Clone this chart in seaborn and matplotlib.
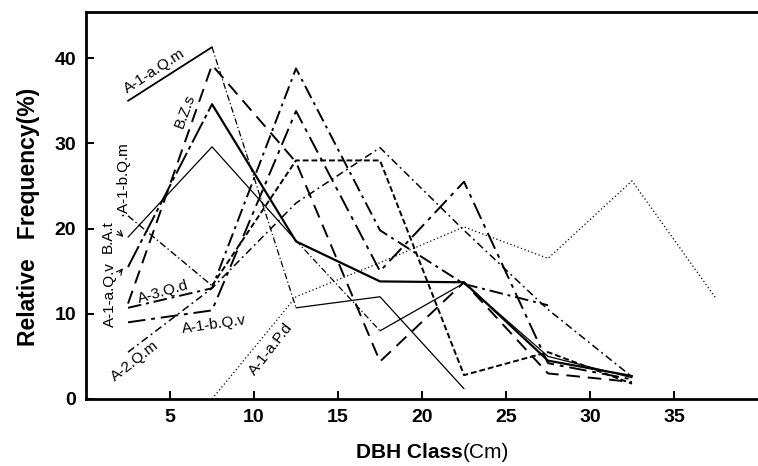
import numpy as np
import pandas as pd
import matplotlib
matplotlib.use("Agg")
import matplotlib.pyplot as plt
import seaborn as sns

sns.set_style("ticks")
plt.rcParams['font.family'] = ['Liberation Sans', 'DejaVu Sans']
plt.rcParams['text.color'] = 'black'
plt.rcParams['xtick.color'] = 'black'
plt.rcParams['ytick.color'] = 'black'
plt.rcParams['axes.edgecolor'] = 'black'

dbh = [2.5, 7.5, 12.5, 17.5, 22.5, 27.5, 32.5, 37.5]
nan = np.nan

a1a_qm = [35.0, 41.3, 10.7, 12.0, 1.2, nan, nan, nan]
b_zs = [11.2, 39.2, 27.8, 4.4, 13.7, 3.0, 2.0, nan]
a1a_qv = [15.5, 34.6, 18.5, 13.8, 13.7, 4.5, 2.7, nan]
b_at = [19.0, 29.6, 18.6, 8.0, 13.6, 5.0, 2.5, nan]
a1b_qm = [21.5, 13.3, 28.0, 28.0, 2.8, 5.5, 1.8, nan]
a3_qd = [10.7, 13.0, 38.8, 19.8, 13.5, 11.0, nan, nan]
a2_qm = [5.5, 13.0, 23.0, 29.5, 19.8, 10.5, 2.6, nan]
a1b_qv = [9.0, 10.4, 33.8, 15.0, 25.5, 4.2, 2.3, nan]
a1a_pd = [nan, 0.0, 12.0, 16.0, 20.2, 16.5, 25.6, 11.8]

series = {
    "A-1-a.Q.m": a1a_qm,
    "B.Z.s": b_zs,
    "A-1-a.Q.v": a1a_qv,
    "B.A.t": b_at,
    "A-1-b.Q.m": a1b_qm,
    "A-3.Q.d": a3_qd,
    "A-2.Q.m": a2_qm,
    "A-1-b.Q.v": a1b_qv,
    "A-1-a.P.d": a1a_pd,
}

DASHDOT_THIN = (0, (5, 2, 1, 2))
# pieces per series: (start_index, end_index, linewidth, linestyle)
styles = {
    "A-1-a.Q.m": [(0, 1, 1.3, "-"), (1, 2, 0.9, DASHDOT_THIN), (2, 4, 0.9, "-")],
    "B.Z.s": [(0, 7, 1.4, (0, (7, 4)))],
    "A-1-a.Q.v": [(0, 1, 1.4, (0, (12, 2, 2, 2))), (1, 7, 1.6, "-")],
    "B.A.t": [(0, 2, 0.9, "-"), (2, 3, 0.9, DASHDOT_THIN), (3, 7, 0.9, "-")],
    "A-1-b.Q.m": [(0, 1, 1.0, DASHDOT_THIN), (1, 7, 1.4, (0, (3, 1.5)))],
    "A-3.Q.d": [(0, 6, 1.4, (0, (7, 2.5, 1.5, 2.5)))],
    "A-2.Q.m": [(0, 7, 1.1, (0, (5, 2.5, 1.2, 2.5)))],
    "A-1-b.Q.v": [(0, 7, 1.4, (0, (9, 3, 2, 3)))],
    "A-1-a.P.d": [(1, 8, 0.9, (0, (1, 2)))],
}

fig = plt.figure(figsize=(7.58, 4.66), dpi=100)
ax = fig.add_axes([0.1135, 0.1438, 0.8865, 0.830])

for name, vals in series.items():
    df = pd.DataFrame({"x": dbh, "y": vals})
    for i0, i1, lw, ls in styles[name]:
        part = df.iloc[i0:i1 + 1].dropna()
        sns.lineplot(data=part, x="x", y="y", ax=ax, color="black",
                     linewidth=lw, linestyle=ls, estimator=None, sort=False)

ax.set_xlim(0, 40)
ax.set_ylim(0, 45.4)
ax.set_xticks([5, 10, 15, 20, 25, 30, 35])
ax.set_yticks([0, 10, 20, 30, 40])
ax.tick_params(direction="in", length=6, width=1.4, labelsize=14, pad=7)
for lab in ax.get_xticklabels() + ax.get_yticklabels():
    lab.set_fontweight("bold")
for s in ["left", "bottom", "top"]:
    ax.spines[s].set_linewidth(2.0)
ax.spines["right"].set_visible(False)

ax.set_xlabel("")
ax.set_ylabel("")
fig.text(0.611, 0.03, "DBH Class", ha="right", va="center",
         fontsize=15, fontweight="bold")
fig.text(0.611, 0.03, "(Cm)", ha="left", va="center", fontsize=15)
fig.text(0.037, 0.534, "Relative   Frequency(%)", ha="center", va="center",
         rotation=90, fontsize=16.5, fontweight="bold")

fs = 11
ax.text(4.1, 38.5, "A-1-a.Q.m", rotation=33, fontsize=fs, ha="center", va="center")
ax.text(5.9, 33.8, "B.Z.s", rotation=70, fontsize=fs, ha="center", va="center")
ax.text(2.15, 25.9, "·A-1-b.Q.m", rotation=90, fontsize=fs, ha="center", va="center")
ax.text(1.3, 19.1, "B.A.t", rotation=90, fontsize=fs, ha="center", va="center")
ax.text(1.43, 12.2, "A-1-a.Q.v", rotation=90, fontsize=fs, ha="center", va="center")
ax.text(4.6, 12.6, "A-3.Q.d", rotation=16, fontsize=fs, ha="center", va="center")
ax.text(7.6, 8.7, "A-1-b.Q.v", rotation=8, fontsize=fs, ha="center", va="center")
ax.text(2.9, 4.4, "A-2.Q.m", rotation=38, fontsize=fs, ha="center", va="center")
ax.text(11.0, 5.9, "A-1-a.P.d", rotation=52, fontsize=fs, ha="center", va="center")
ax.annotate("", xy=(2.35, 18.8), xytext=(1.75, 19.9),
            arrowprops=dict(arrowstyle="->", lw=0.8, color="black"))
ax.annotate("", xy=(2.3, 15.6), xytext=(1.9, 14.6),
            arrowprops=dict(arrowstyle="->", lw=0.8, color="black"))

fig.savefig("out.png", dpi=100)
